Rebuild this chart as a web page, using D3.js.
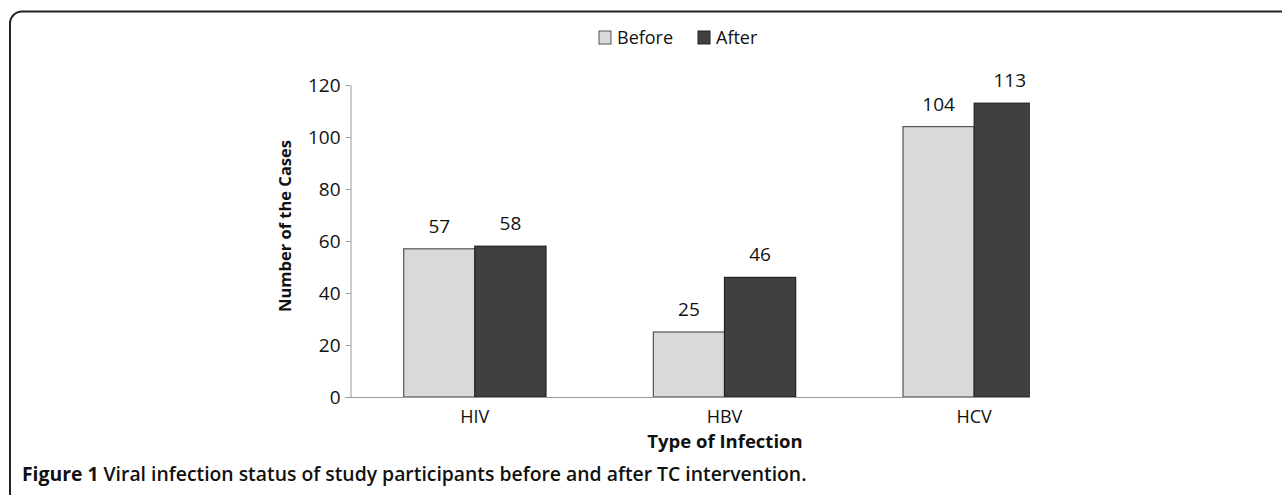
<!DOCTYPE html>
<html>
<head>
<meta charset="utf-8">
<style>
  body { margin: 0; background: #fff; }
  svg text { font-family: "Open Sans", sans-serif; fill: #111; }
</style>
</head>
<body>
<svg width="1282" height="495"></svg>
<script src="https://d3js.org/d3.v7.min.js"></script>
<script>
var categories = ["HIV", "HBV", "HCV"];
var seriesNames = ["Before", "After"];
var before = [57, 25, 104];
var after = [58, 46, 113];
var yTicks = [0, 20, 40, 60, 80, 100, 120];

var colors = { Before: "#d9d9d9", After: "#404040" };
var strokes = { Before: "#555", After: "#222" };

var svg = d3.select("svg");

// outer frame, open to the right and bottom
svg.append("path")
  .attr("d", "M1290,11.5 H22 A12,12 0 0 0 10,23.5 V500")
  .attr("fill", "none")
  .attr("stroke", "#222")
  .attr("stroke-width", 2);

var x = d3.scaleBand().domain(categories).range([350, 1099]).paddingInner(0.43).paddingOuter(0.215);
var x1 = d3.scaleBand().domain(seriesNames).range([0, x.bandwidth()]);
var y = d3.scaleLinear().domain([0, 120]).range([397, 85]);

svg.append("defs").append("clipPath").attr("id", "plot")
  .append("rect").attr("x", 350).attr("y", 0).attr("width", 680).attr("height", 398);

var rows = categories.map(function(c, i) {
  return [{ cat: c, key: "Before", v: before[i] }, { cat: c, key: "After", v: after[i] }];
});

var g = svg.append("g").attr("clip-path", "url(#plot)");
g.selectAll("g.cat").data(rows).enter().append("g")
  .attr("transform", function(d) { return "translate(" + x(d[0].cat) + ",0)"; })
  .selectAll("rect").data(function(d) { return d; }).enter().append("rect")
  .attr("x", function(d) { return x1(d.key); })
  .attr("y", function(d) { return y(d.v); })
  .attr("width", x1.bandwidth())
  .attr("height", function(d) { return y(0) - y(d.v); })
  .attr("fill", function(d) { return colors[d.key]; })
  .attr("stroke", function(d) { return strokes[d.key]; })
  .attr("stroke-width", 1.2);

// value labels
var flat = [].concat.apply([], rows);
svg.selectAll("text.val").data(flat).enter().append("text")
  .attr("class", "val")
  .attr("x", function(d) { return x(d.cat) + x1(d.key) + x1.bandwidth() / 2; })
  .attr("y", function(d) { return y(d.v) - 16; })
  .attr("text-anchor", "middle")
  .style("font-size", "19px")
  .text(function(d) { return d.v; });

// y axis
var yAxis = svg.append("g").attr("transform", "translate(350.5,0)")
  .call(d3.axisLeft(y).tickValues(yTicks).tickSize(5).tickPadding(5).tickSizeOuter(0));
yAxis.select(".domain").attr("stroke", "#999");
yAxis.selectAll(".tick line").attr("stroke", "#999");
yAxis.selectAll(".tick text").style("font-size", "19px").attr("fill", "#111");

// x axis line (clipped at the plot edge)
svg.append("line")
  .attr("x1", 350).attr("x2", 1030)
  .attr("y1", 397.5).attr("y2", 397.5)
  .attr("stroke", "#999");

svg.selectAll("text.cat").data(categories).enter().append("text")
  .attr("class", "cat")
  .attr("x", function(d) { return x(d) + x.bandwidth() / 2; })
  .attr("y", 423)
  .attr("text-anchor", "middle")
  .style("font-size", "18px")
  .text(function(d) { return d; });

svg.append("text")
  .attr("x", 725).attr("y", 448)
  .attr("text-anchor", "middle")
  .style("font-size", "18.5px").style("font-weight", "bold")
  .text("Type of Infection");

svg.append("text")
  .attr("transform", "translate(291,226) rotate(-90)")
  .attr("text-anchor", "middle")
  .style("font-size", "16.5px").style("font-weight", "bold")
  .text("Number of the Cases");

// legend
var leg = svg.append("g").selectAll("g").data(seriesNames).enter().append("g")
  .attr("transform", function(d, i) { return "translate(" + (599 + i * 99) + ",31)"; });
leg.append("rect")
  .attr("width", 12).attr("height", 13)
  .attr("fill", function(d) { return colors[d]; })
  .attr("stroke", function(d) { return strokes[d]; });
leg.append("text")
  .attr("x", 18).attr("y", 13)
  .style("font-size", "18px")
  .text(function(d) { return d; });

// caption
var cap = svg.append("text").attr("x", 22).attr("y", 481).style("font-size", "17px");
cap.append("tspan").style("font-weight", "bold").text("Figure 1");
cap.append("tspan").style("font-weight", "600").text(" Viral infection status of study participants before and after TC intervention.");
var w = cap.node().getComputedTextLength();
cap.style("font-size", (17 * 785 / w) + "px");
</script>
</body>
</html>
